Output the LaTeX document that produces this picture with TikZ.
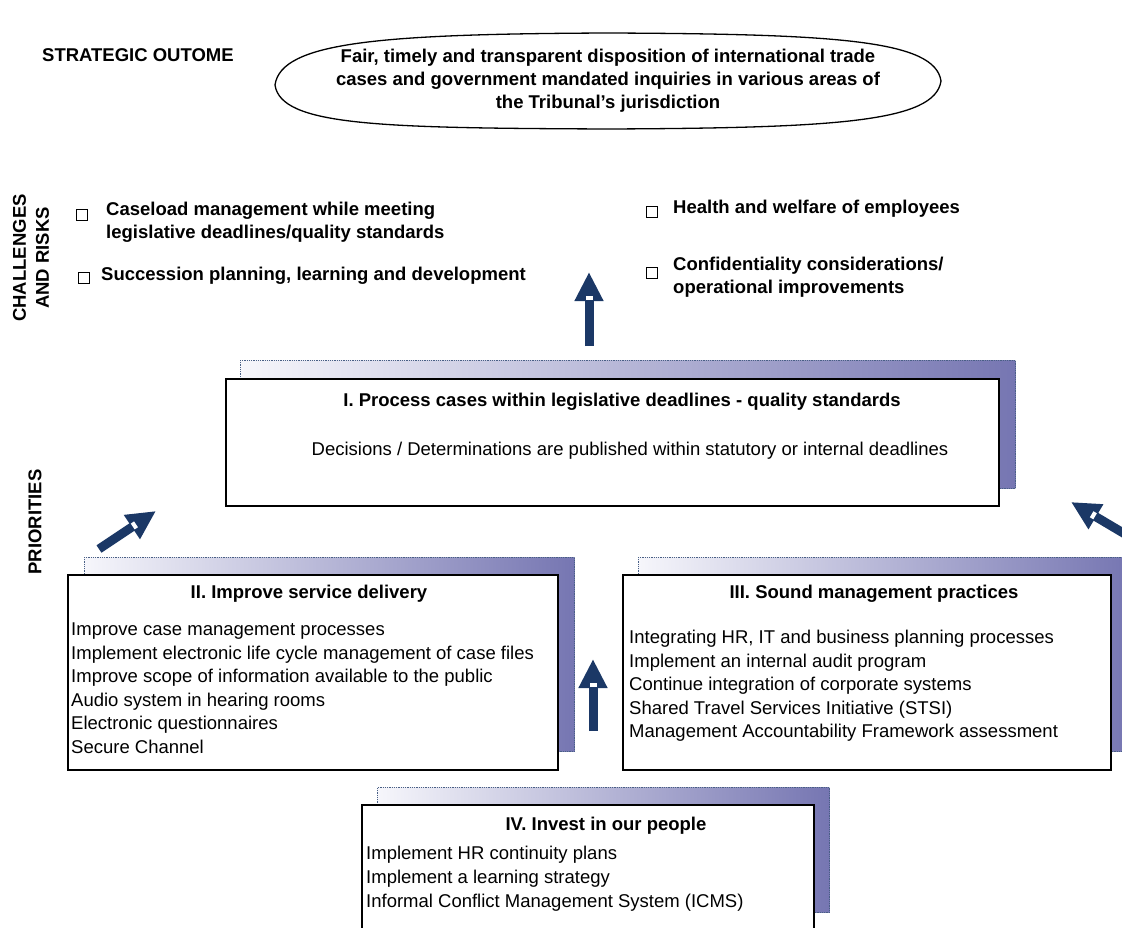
\documentclass[tikz,border=0pt]{standalone}
\usepackage{fontspec}
\setmainfont{Liberation Sans}
\usetikzlibrary{shapes.geometric,arrows.meta,calc,positioning}
\definecolor{navy}{RGB}{27,56,102}
\definecolor{lilac}{RGB}{118,118,178}
\definecolor{paleblue}{RGB}{246,246,251}

\begin{document}
\begin{tikzpicture}[x=1pt,y=-1pt,
    every node/.style={font=\fontsize{18.5}{23.5}\selectfont, inner sep=0pt},
    hd/.style={font=\fontsize{18.5}{23}\selectfont\bfseries},
    prio/.style={draw=black, line width=2pt, fill=white, anchor=north west},
    backing/.style={draw=navy!80, densely dotted, line width=0.8pt, left color=paleblue, right color=lilac, anchor=north west},
    chk/.style={draw, line width=0.8pt, minimum size=10.5pt},
    bigarrow/.style={navy, line width=9pt, -{Triangle[width=27pt,length=29pt]}},
    notch/.style={white, line width=7pt}]
    \useasboundingbox (0,0) rectangle (1122,928);

    % outcome
    \node[hd, anchor=west] (so) at (42,55) {STRATEGIC OUTOME};
    \draw[line width=1.3pt] (275,85) .. controls (281,42) and (380,34) .. (608,33)
        .. controls (836,34) and (935,40) .. (941,81)
        .. controls (935,122) and (836,128) .. (608,129)
        .. controls (380,128) and (281,126) .. cycle;
    \node[hd, align=center] (oct) at (608,81)
        {Fair, timely and transparent disposition of international trade\\cases and government mandated inquiries in various areas of\\the Tribunal's jurisdiction};

    % side labels
    \node[hd, rotate=90, align=center] (cr) at (31,258) {CHALLENGES\\AND RISKS};
    \node[hd, rotate=90] (pr) at (35,522) {PRIORITIES};

    % challenges and risks
    \node[chk] (c1) at (82,215) {};
    \node[hd, anchor=north west, align=left] (r1) at (106,202) {Caseload management while meeting\\legislative deadlines/quality standards};
    \node[chk] (c2) at (84,278) {};
    \node[hd, anchor=west] (r2) at (101,276) {Succession planning, learning and development};
    \node[chk] (c3) at (652,212) {};
    \node[hd, anchor=west] (r3) at (673,209) {Health and welfare of employees};
    \node[chk] (c4) at (652,273) {};
    \node[hd, anchor=north west, align=left] (r4) at (673,257) {Confidentiality considerations/\\operational improvements};

    % priorities
    \node[backing, minimum width=775pt, minimum height=128pt] (s1) at (240,360) {};
    \node[prio, minimum width=773pt, minimum height=127pt] (p1) at (225,378) {};
    \node[hd] (p1t) at (622,402) {I. Process cases within legislative deadlines - quality standards};
    \node (p1d) at (630,451) {Decisions / Determinations are published within statutory or internal deadlines};

    \node[backing, minimum width=490pt, minimum height=194pt] (s2) at (84,557) {};
    \node[prio, minimum width=490pt, minimum height=195pt] (p2) at (67,574) {};
    \node[hd] (p2t) at (309,594) {II. Improve service delivery};
    \node[anchor=north west, align=left] (p2d) at (71,623) {Improve case management processes\\Implement electronic life cycle management of case files\\Improve scope of information available to the public\\Audio system in hearing rooms\\Electronic questionnaires\\Secure Channel};

    \node[backing, minimum width=490pt, minimum height=194pt] (s3) at (638,557) {};
    \node[prio, minimum width=488pt, minimum height=195pt] (p3) at (622,574) {};
    \node[hd] (p3t) at (874,594) {III. Sound management practices};
    \node[anchor=north west, align=left] (p3d) at (629,630) {Integrating HR, IT and business planning processes\\Implement an internal audit program\\Continue integration of corporate systems\\Shared Travel Services Initiative (STSI)\\Management Accountability Framework assessment};

    \node[backing, minimum width=452pt, minimum height=125pt] (s4) at (377,787) {};
    \node[prio, minimum width=452pt, minimum height=140pt] (p4) at (361,804) {};
    \node[hd] (p4t) at (606,826) {IV. Invest in our people};
    \node[anchor=north west, align=left, font=\fontsize{18.5}{24}\selectfont] (p4d) at (366,846) {Implement HR continuity plans\\Implement a learning strategy\\Informal Conflict Management System (ICMS)};

    % block arrows
    \coordinate (t1) at (589,346); \coordinate (h1) at (589,272);
    \coordinate (t2) at (99,549);  \coordinate (h2) at (156,511);
    \coordinate (t3) at (1130,537); \coordinate (h3) at (1071,502);
    \coordinate (t4) at (593,731); \coordinate (h4) at (593,659);
    \foreach \n in {1,...,4}{
        \draw[bigarrow] (t\n) -- (h\n);
        \draw[notch] ($(h\n)!24pt!(t\n)$) -- ($(h\n)!28pt!(t\n)$);
    }
\end{tikzpicture}
\end{document}
